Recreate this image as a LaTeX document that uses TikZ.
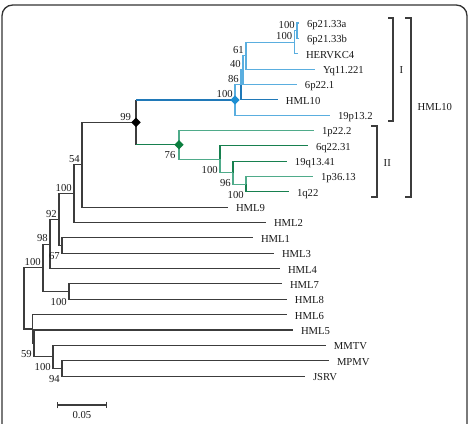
\documentclass[tikz,border=0pt]{standalone}
\usepackage{fontspec}
\setmainfont{Liberation Serif}
\usetikzlibrary{arrows.meta, shapes.geometric, calc}

\definecolor{treegray}{HTML}{3C3C3C}
\definecolor{clusterI}{HTML}{5AAEDF}
\definecolor{clusterIdark}{HTML}{2079B8}
\definecolor{clusterII}{HTML}{4FAB8A}
\definecolor{clusterIIdark}{HTML}{17804F}
\definecolor{knotI}{HTML}{1E8FD2}
\definecolor{knotII}{HTML}{0B7E3E}

\tikzset{
  branch/.style={line width=0.8pt, draw=treegray},
  blueb/.style={branch, draw=clusterI},
  blued/.style={branch, draw=clusterIdark},
  greenb/.style={branch, draw=clusterII},
  greend/.style={branch, draw=clusterIIdark},
  leaf/.style={anchor=west, inner xsep=1pt, outer xsep=5pt, text height=1.45ex, text depth=0pt},
  boot/.style={inner sep=1.5pt, text height=1.45ex, text depth=0pt},
  bootup/.style={boot, anchor=south east},
  bootdn/.style={boot, anchor=north east, yshift=-2pt},
  knot/.style={diamond, inner sep=0pt, minimum size=7.2pt},
  bracket/.style={line width=0.8pt, draw=treegray},
}

\begin{document}
\begin{tikzpicture}[x=0.75pt, y=-0.75pt, every node/.style={font=\fontsize{8}{9.5}\selectfont, text=black!90}]
  \clip (0,0) rectangle (469,424);
  \draw[line width=1pt, draw=black!80, rounded corners=8pt] (2,5) rectangle (467,450);

  % leaves, top to bottom
  \node[leaf] (l6p21a)   at (299,23.00)  {6p21.33a};
  \node[leaf] (l6p21b)   at (299,38.35)  {6p21.33b};
  \node[leaf] (lhervkc4) at (298,53.70)  {HERVKC4};
  \node[leaf] (lyq11)    at (315,69.05)  {Yq11.221};
  \node[leaf] (l6p22)    at (297,84.40)  {6p22.1};
  \node[leaf] (lhml10)   at (278,99.75)  {HML10};
  \node[leaf] (l19p13)   at (330,115.10) {19p13.2};
  \node[leaf] (l1p22)    at (314,130.45) {1p22.2};
  \node[leaf] (l6q22)    at (308,145.80) {6q22.31};
  \node[leaf] (l19q13)   at (287,161.15) {19q13.41};
  \node[leaf] (l1p36)    at (313,176.50) {1p36.13};
  \node[leaf] (l1q22)    at (289,191.85) {1q22};
  \node[leaf] (lhml9)    at (228,207.20) {HML9};
  \node[leaf] (lhml2)    at (266,222.55) {HML2};
  \node[leaf] (lhml1)    at (253,237.90) {HML1};
  \node[leaf] (lhml3)    at (274,253.25) {HML3};
  \node[leaf] (lhml4)    at (280,268.60) {HML4};
  \node[leaf] (lhml7)    at (282,283.95) {HML7};
  \node[leaf] (lhml8)    at (287,299.30) {HML8};
  \node[leaf] (lhml6)    at (287,314.65) {HML6};
  \node[leaf] (lhml5)    at (293,330.00) {HML5};
  \node[leaf] (lmmtv)    at (326,345.35) {MMTV};
  \node[leaf] (lmpmv)    at (329,360.70) {MPMV};
  \node[leaf] (ljsrv)    at (305,376.05) {JSRV};

  % internal nodes
  \coordinate (nA) at (297,30.7);
  \coordinate (nB) at (294.5,42.2);
  \coordinate (nC) at (246,55.6);
  \coordinate (nD) at (243,70.0);
  \coordinate (nE) at (241,84.9);
  \coordinate (nF) at (235,100.0);
  \coordinate (nK) at (246,184.2);
  \coordinate (nJ) at (233,172.7);
  \coordinate (nI) at (220,159.2);
  \coordinate (nH) at (179,144.8);
  \coordinate (nG) at (136,122.4);
  \coordinate (nL) at (82,164.8);
  \coordinate (nM) at (74,193.7);
  \coordinate (nO) at (62,245.6);
  \coordinate (nN) at (59,219.6);
  \coordinate (nP) at (50,244.1);
  \coordinate (nQ) at (69,291.6);
  \coordinate (nR) at (43,267.9);
  \coordinate (nV) at (62,368.4);
  \coordinate (nU) at (53,356.9);
  \coordinate (nT2) at (34,343.4);
  \coordinate (nT) at (32.5,329.0);
  \coordinate (nS) at (24,298.5);

  % cluster I
  \draw[blueb] (nA) |- (l6p21a.west);
  \draw[blueb] (nA) |- (l6p21b.west);
  \draw[blueb] (nB) |- (nA);
  \draw[blueb] (nB) |- (lhervkc4.west);
  \draw[blueb] (nC) |- (nB);
  \draw[blueb] (nC) |- (lyq11.west);
  \draw[blueb] (nD) |- (nC);
  \draw[blueb] (nD) |- (l6p22.west);
  \draw[blueb] (nE) |- (nD);
  \draw[blued] (nE) |- (lhml10.west);
  \draw[blueb] (nF) |- (nE);
  \draw[blueb] (nF) |- (l19p13.west);

  % cluster II
  \draw[greenb] (nK) |- (l1p36.west);
  \draw[greend] (nK) |- (l1q22.west);
  \draw[greenb] (nJ) |- (nK);
  \draw[greend] (nJ) |- (l19q13.west);
  \draw[greenb] (nI) |- (nJ);
  \draw[greend] (nI) |- (l6q22.west);
  \draw[greenb] (nH) |- (nI);
  \draw[greenb] (nH) |- (l1p22.west);

  % HML10 root
  \draw[branch] (nG |- nF) -- (nG |- nH);
  \draw[blued] (nG |- nF) -- (nF);
  \draw[greend] (nG |- nH) -- (nH);

  % remaining groups
  \draw[branch] (nL) |- (nG);
  \draw[branch] (nL) |- (lhml9.west);
  \draw[branch] (nM) |- (nL);
  \draw[branch] (nM) |- (lhml2.west);
  \draw[branch] (nO) |- (lhml1.west);
  \draw[branch] (nO) |- (lhml3.west);
  \draw[branch] (nN) |- (nM);
  \draw[branch] (nN) |- (nO);
  \draw[branch] (nP) |- (nN);
  \draw[branch] (nP) |- (lhml4.west);
  \draw[branch] (nQ) |- (lhml7.west);
  \draw[branch] (nQ) |- (lhml8.west);
  \draw[branch] (nR) |- (nP);
  \draw[branch] (nR) |- (nQ);
  \draw[branch] (nV) |- (lmpmv.west);
  \draw[branch] (nV) |- (ljsrv.west);
  \draw[branch] (nU) |- (lmmtv.west);
  \draw[branch] (nU) |- (nV);
  \draw[branch] (nT2) |- (lhml5.west);
  \draw[branch] (nT2) |- (nU);
  \draw[branch] (nT) |- (lhml6.west);
  \draw[branch] (nT) |- (nT2);
  \draw[branch] (nS) |- (nR);
  \draw[branch] (nS) |- (nT);

  % node markers
  \node[knot, fill=black] (kG) at (nG) {};
  \node[knot, fill=knotI] (kF) at (nF) {};
  \node[knot, fill=knotII] (kH) at (nH) {};

  % bootstrap values
  \node[bootup] (bA) at (nA) {100};
  \node[bootup] (bB) at (nB) {100};
  \node[bootup] (bC) at (nC) {61};
  \node[bootup] (bD) at (nD) {40};
  \node[bootup] (bE) at (nE) {86};
  \node[bootup] (bF) at (nF) {100};
  \node[bootup] (bG) at ([xshift=-2pt]nG) {99};
  \node[bootdn] (bH) at ([xshift=-1pt]nH) {76};
  \node[bootdn] (bI) at (nI) {100};
  \node[bootdn] (bJ) at (nJ) {96};
  \node[bootdn] (bK) at (nK) {100};
  \node[bootup] (bL) at (nL) {54};
  \node[bootup] (bM) at (nM) {100};
  \node[bootup] (bN) at (nN) {92};
  \node[bootdn] (bO) at (nO) {67};
  \node[bootup] (bP) at (nP) {98};
  \node[bootup] (bR) at (nR) {100};
  \node[bootdn] (bQ) at (nQ) {100};
  \node[bootdn] (bT2) at (nT2) {59};
  \node[bootdn] (bU) at (nU) {100};
  \node[bootdn] (bV) at (nV) {94};

  % clade brackets
  \draw[bracket] (388,18) -- (393,18) -- (393,121) -- (388,121);
  \node[anchor=west] (cI) at (395,70) {I};
  \draw[bracket] (371,126) -- (377,126) -- (377,197) -- (371,197);
  \node[anchor=west] (cII) at (379,163) {II};
  \draw[bracket] (405,18) -- (411,18) -- (411,197) -- (405,197);
  \node[anchor=west] (cHML10) at (413,107) {HML10};

  % scale bar
  \draw[branch, {Bar[width=5pt]}-{Bar[width=5pt]}] (57,405) coordinate (sbL) -- (107,405) coordinate (sbR);
  \node[below=1pt] (sbLabel) at ($(sbL)!0.5!(sbR)$) {0.05};
\end{tikzpicture}
\end{document}
